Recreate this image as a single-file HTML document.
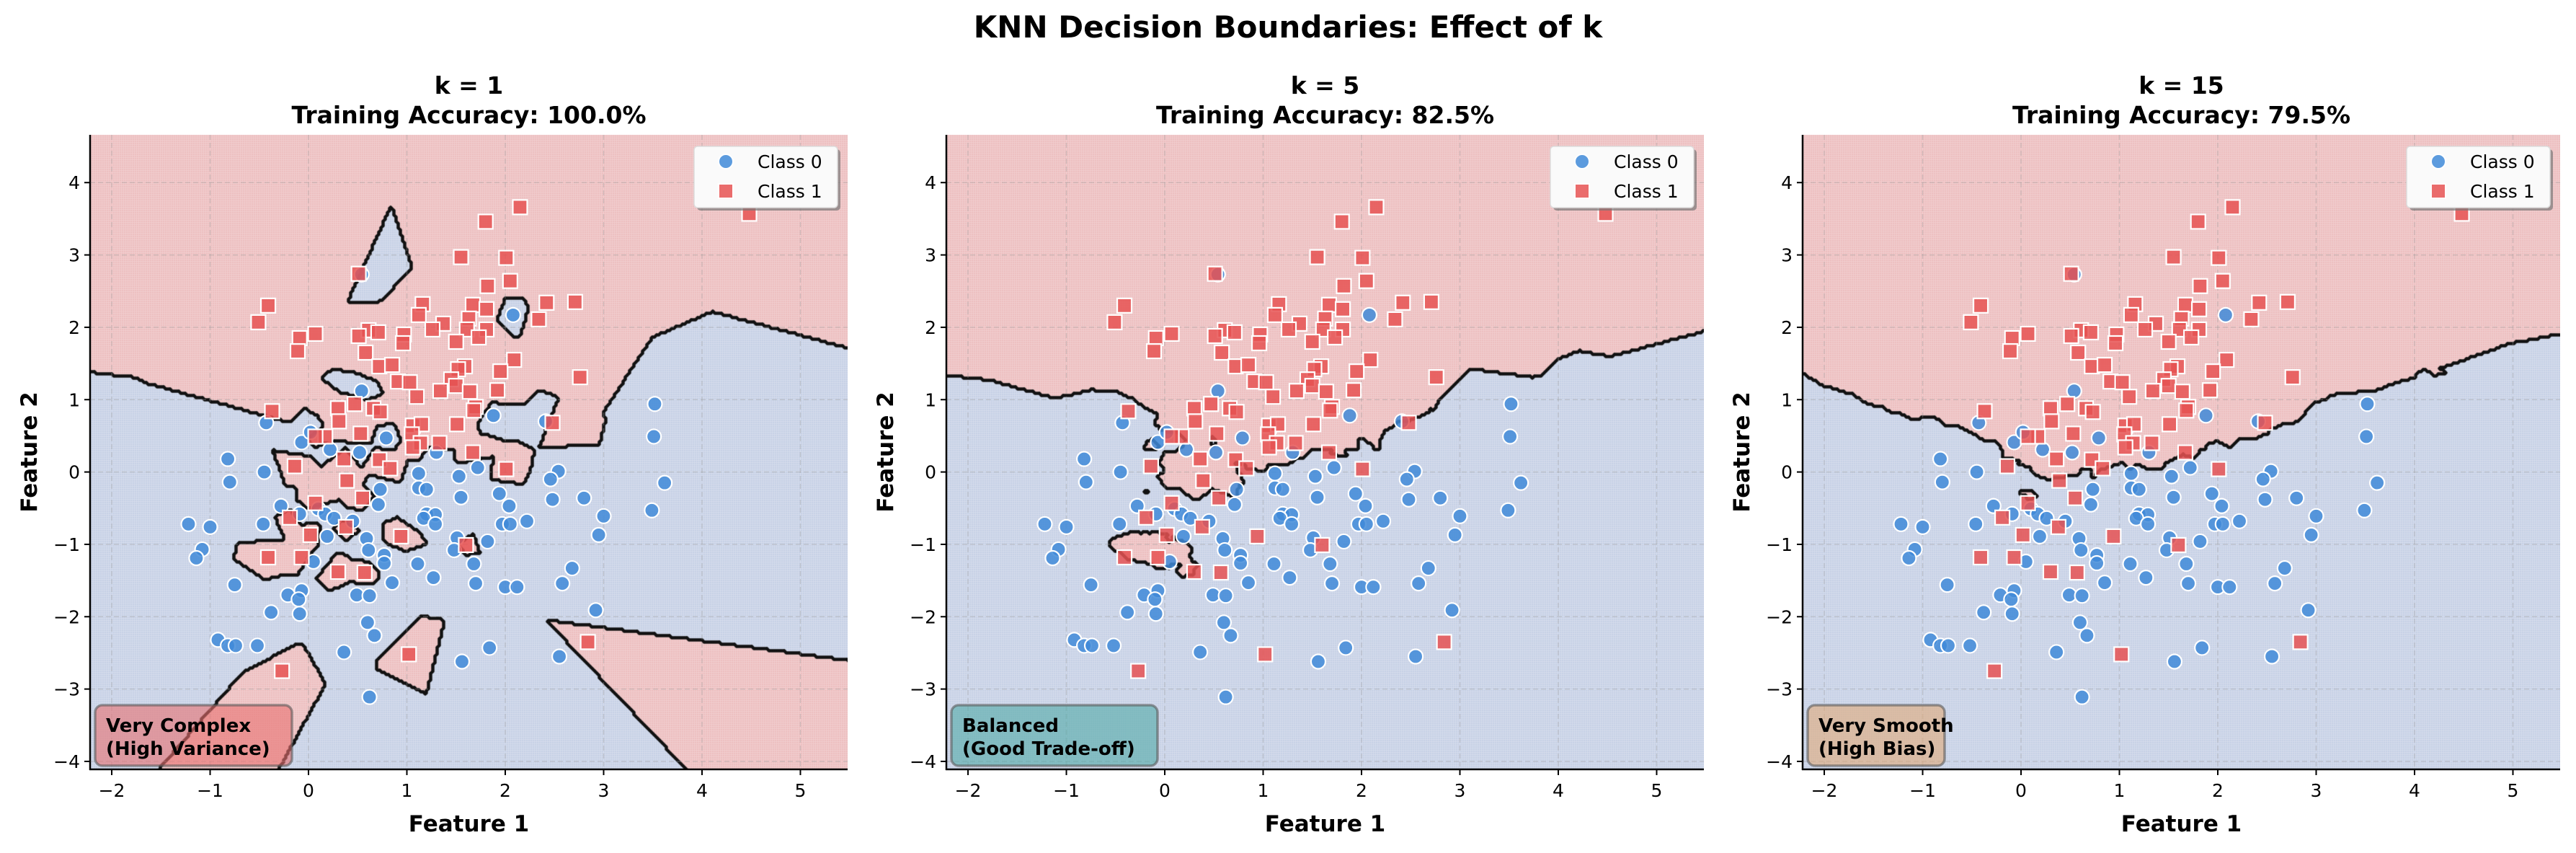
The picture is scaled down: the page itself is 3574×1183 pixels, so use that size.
<!DOCTYPE html>
<html><head><meta charset="utf-8">
<style>
html,body{margin:0;padding:0;background:#fff;}
#wrap{position:relative;width:3574px;height:1183px;overflow:hidden;font-family:"DejaVu Sans","Liberation Sans",sans-serif;}
canvas{position:absolute;}
svg{position:absolute;left:0;top:0;}
</style></head>
<body>
<div id="wrap">
<canvas id="c0"></canvas>
<canvas id="c1"></canvas>
<canvas id="c2"></canvas>
<svg id="svg" width="3574" height="1183" xmlns="http://www.w3.org/2000/svg">
<text x="1787" y="52" text-anchor="middle" font-size="42" font-weight="bold">KNN Decision Boundaries: Effect of k</text>
</svg>
</div>
<script>
// ---- data (feature1, feature2) ----
const class0X = [0.54,2.08,0.54,-0.43,1.88,2.41,3.52,3.51,3.62,3.49,-0.07,0.02,0.79,0.22,0.52,1.30,-0.82,-0.45,-0.80,1.12,1.53,1.72,2.54,2.46,0.73,1.12,1.20,1.55,1.94,2.04,2.48,2.80,3.00,2.95,-0.28,-0.09,0.10,0.17,0.26,0.45,0.71,1.20,1.29,1.17,1.29,1.97,2.05,2.22,-1.22,-1.00,-0.46,-1.08,-1.14,0.19,0.59,0.61,0.77,0.77,0.05,1.51,1.48,1.82,1.11,1.68,1.27,1.70,2.00,2.12,2.68,2.58,-0.75,-0.21,-0.07,-0.10,-0.09,-0.38,0.49,0.62,0.85,0.60,0.67,2.92,-0.92,-0.82,-0.74,-0.52,0.36,1.56,1.84,2.55,0.62];
const class0Y = [2.73,2.17,1.12,0.68,0.78,0.70,0.94,0.49,-0.15,-0.53,0.41,0.55,0.47,0.31,0.27,0.27,0.18,0.00,-0.14,-0.02,-0.06,0.06,0.01,-0.10,-0.24,-0.22,-0.24,-0.35,-0.30,-0.47,-0.38,-0.36,-0.61,-0.87,-0.47,-0.58,-0.51,-0.58,-0.64,-0.68,-0.45,-0.58,-0.59,-0.64,-0.72,-0.72,-0.72,-0.68,-0.72,-0.76,-0.72,-1.07,-1.19,-0.89,-0.92,-1.08,-1.15,-1.26,-1.24,-0.91,-1.08,-0.96,-1.27,-1.27,-1.46,-1.54,-1.59,-1.59,-1.33,-1.54,-1.56,-1.70,-1.64,-1.76,-1.96,-1.94,-1.70,-1.71,-1.53,-2.08,-2.26,-1.91,-2.32,-2.40,-2.40,-2.40,-2.49,-2.62,-2.43,-2.55,-3.11];
const class1X = [2.15,1.80,4.48,1.55,2.01,0.51,2.05,1.82,-0.41,1.16,2.42,2.71,-0.51,1.12,1.37,1.67,1.81,1.63,2.34,1.26,0.61,0.71,0.97,0.51,0.07,-0.09,-0.11,0.96,1.61,1.81,1.73,1.50,0.58,2.09,0.72,0.85,1.59,1.52,1.95,2.76,0.91,1.03,1.45,1.50,1.34,1.64,1.92,1.10,1.70,1.68,-0.37,0.30,0.47,0.66,0.73,0.31,1.06,1.15,1.51,2.48,0.17,0.07,0.53,1.05,1.14,1.06,1.33,1.67,-0.14,0.36,0.72,0.83,2.01,0.39,0.55,0.07,-0.19,0.38,0.02,0.94,1.60,-0.41,-0.07,0.30,0.57,1.02,-0.27,2.84];
const class1Y = [3.66,3.46,3.57,2.97,2.96,2.74,2.64,2.57,2.30,2.32,2.34,2.35,2.07,2.17,2.05,2.31,2.25,2.12,2.11,1.97,1.96,1.93,1.90,1.88,1.91,1.85,1.67,1.78,1.97,1.97,1.86,1.80,1.65,1.55,1.46,1.48,1.46,1.42,1.39,1.31,1.25,1.24,1.28,1.19,1.12,1.11,1.13,1.04,0.90,0.85,0.84,0.88,0.94,0.88,0.83,0.70,0.64,0.66,0.66,0.68,0.49,0.49,0.53,0.52,0.40,0.34,0.40,0.27,0.08,0.18,0.17,0.05,0.04,-0.12,-0.36,-0.43,-0.63,-0.76,-0.87,-0.89,-1.01,-1.18,-1.18,-1.38,-1.39,-2.52,-2.75,-2.35];
const kValues = [1,5,15];
const accuracyLabels = ["100.0%","82.5%","79.5%"];
const boxLabels = [["Very Complex","(High Variance)"],["Balanced","(Good Trade-off)"],["Very Smooth","(High Bias)"]];
const xTicks = [-2,-1,0,1,2,3,4,5];
const yTicks = [-4,-3,-2,-1,0,1,2,3,4];

// ---- layout ----
const NS="http://www.w3.org/2000/svg";
const svg=document.getElementById('svg');
const PL=[125,1313,2501], PT=187, PW=1051, PH=880;
const XMIN=-2.22, XMAX=5.48, YMIN=-4.11, YMAX=4.66;
const xs=v=>(v-XMIN)/(XMAX-XMIN)*PW;
const ys=v=>PH-(v-YMIN)/(YMAX-YMIN)*PH;
function el(tag,attrs,parent){const e=document.createElementNS(NS,tag);for(const k in attrs)e.setAttribute(k,attrs[k]);(parent||svg).appendChild(e);return e;}

// ---- KNN on grid ----
const PX=[],PY=[],LB=[];
class0X.forEach((x,i)=>{PX.push(x);PY.push(class0Y[i]);LB.push(0);});
class1X.forEach((x,i)=>{PX.push(x);PY.push(class1Y[i]);LB.push(1);});
const STEP=3, NX=Math.ceil(PW/STEP)+1, NY=Math.ceil(PH/STEP)+1;
const grids=kValues.map(()=>new Uint8Array(NX*NY));
const KM=Math.max(...kValues);
const bd=new Float64Array(KM), bl=new Uint8Array(KM);
for(let j=0;j<NY;j++){
  const gy=YMAX-(j*STEP)/PH*(YMAX-YMIN);
  for(let i=0;i<NX;i++){
    const gx=XMIN+(i*STEP)/PW*(XMAX-XMIN);
    let n=0;
    for(let p=0;p<PX.length;p++){
      const dx=PX[p]-gx, dy=PY[p]-gy, d=dx*dx+dy*dy;
      if(n<KM||d<bd[n-1]){
        let q=n<KM?n:KM-1;
        while(q>0&&bd[q-1]>d){bd[q]=bd[q-1];bl[q]=bl[q-1];q--;}
        bd[q]=d;bl[q]=LB[p];if(n<KM)n++;
      }
    }
    kValues.forEach((k,gi)=>{let s=0;for(let q=0;q<k;q++)s+=bl[q];grids[gi][j*NX+i]=(s*2>k)?1:0;});
  }
}
const SEG={1:[['L','B']],2:[['B','R']],3:[['L','R']],4:[['T','R']],5:[['L','T'],['B','R']],6:[['T','B']],7:[['L','T']],8:[['L','T']],9:[['T','B']],10:[['L','B'],['T','R']],11:[['T','R']],12:[['L','R']],13:[['B','R']],14:[['L','B']]};
kValues.forEach((k,gi)=>{
  const cv=document.getElementById('c'+gi);
  cv.width=PW;cv.height=PH;cv.style.left=PL[gi]+'px';cv.style.top=PT+'px';
  const ctx=cv.getContext('2d');const g=grids[gi];
  for(let j=0;j<NY;j++)for(let i=0;i<NX;i++){
    ctx.fillStyle=g[j*NX+i]?'#ecbcbd':'#c5cfe5';
    ctx.fillRect(i*STEP-STEP/2,j*STEP-STEP/2,STEP,STEP);
  }
  ctx.strokeStyle='#111';ctx.lineWidth=4.5;ctx.lineCap='round';ctx.lineJoin='round';ctx.beginPath();
  for(let j=0;j<NY-1;j++)for(let i=0;i<NX-1;i++){
    const a=g[j*NX+i],b=g[j*NX+i+1],c=g[(j+1)*NX+i+1],d=g[(j+1)*NX+i];
    const idx=a*8+b*4+c*2+d; const s=SEG[idx]; if(!s)continue;
    const x0=i*STEP,y0=j*STEP,h=STEP/2;
    const P={T:[x0+h,y0],B:[x0+h,y0+STEP],L:[x0,y0+h],R:[x0+STEP,y0+h]};
    s.forEach(([u,v])=>{ctx.moveTo(P[u][0],P[u][1]);ctx.lineTo(P[v][0],P[v][1]);});
  }
  ctx.stroke();
});

// ---- SVG overlay per panel ----
const boxW=[273,286,190];
const boxFill=['rgba(232,112,112,0.6)','rgba(70,165,160,0.55)','rgba(225,165,110,0.55)'];
kValues.forEach((k,gi)=>{
  const g=el('g',{transform:`translate(${PL[gi]},${PT})`});
  
  
  xTicks.forEach(t=>{const l=el('line',{x1:xs(t),x2:xs(t),y1:0,y2:PH,stroke:'#999','stroke-opacity':0.35,'stroke-width':1.5,'stroke-dasharray':'7,4'},g);});
  yTicks.forEach(t=>{const l=el('line',{x1:0,x2:PW,y1:ys(t),y2:ys(t),stroke:'#999','stroke-opacity':0.35,'stroke-width':1.5,'stroke-dasharray':'7,4'},g);});
  class0X.forEach((x,i)=>{const c=el('circle',{cx:xs(x),cy:ys(class0Y[i]),r:10,fill:'#3f8ad8','fill-opacity':0.85,stroke:'#fff','stroke-width':2.2},g);});
  class1X.forEach((x,i)=>{const r=el('rect',{x:xs(x)-10,y:ys(class1Y[i])-10,width:20,height:20,fill:'#e65252','fill-opacity':0.85,stroke:'#fff','stroke-width':2.2},g);});
  const sl=el('line',{x1:0,x2:0,y1:0,y2:PH+1,stroke:'#000','stroke-width':2.5},g);
  const sb=el('line',{x1:-1,x2:PW,y1:PH,y2:PH,stroke:'#000','stroke-width':2.5},g);
  xTicks.forEach(t=>{el('line',{x1:xs(t),x2:xs(t),y1:PH,y2:PH+8,stroke:'#000','stroke-width':2},g);const tx=el('text',{x:xs(t),y:PH+38,'text-anchor':'middle','font-size':25},g);tx.textContent=(t<0?'\u2212'+(-t):t);});
  yTicks.forEach(t=>{el('line',{x1:-8,x2:0,y1:ys(t),y2:ys(t),stroke:'#000','stroke-width':2},g);const tx=el('text',{x:-14,y:ys(t)+9,'text-anchor':'end','font-size':25},g);tx.textContent=(t<0?'\u2212'+(-t):t);});
  const xl=el('text',{x:PW/2,y:PH+86,'text-anchor':'middle','font-size':31,'font-weight':'bold'},g);xl.textContent='Feature 1';
  const yl=el('text',{x:0,y:0,'text-anchor':'middle','font-size':31,'font-weight':'bold',transform:`translate(-74,${PH/2}) rotate(-90)`},g);yl.textContent='Feature 2';
  const t1=el('text',{x:PW/2,y:-57,'text-anchor':'middle','font-size':33,'font-weight':'bold'},g);t1.textContent='k = '+k;
  const t2=el('text',{x:PW/2,y:-16,'text-anchor':'middle','font-size':33,'font-weight':'bold'},g);t2.textContent='Training Accuracy: '+accuracyLabels[gi];
  const lg=el('g',{transform:`translate(${PW-213},16)`},g);
  
  
  el('rect',{x:4,y:4,width:199,height:85,rx:5,fill:'#777','fill-opacity':0.7},lg);
  el('rect',{x:0,y:0,width:199,height:85,rx:5,fill:'#fafafa',stroke:'#ddd','stroke-width':1.5},lg);
  const lc=el('circle',{cx:44,cy:21,r:10,fill:'#3f8ad8','fill-opacity':0.85,stroke:'#fff','stroke-width':2},lg);
  const lr=el('rect',{x:34,y:52,width:20,height:20,fill:'#e65252','fill-opacity':0.85,stroke:'#fff','stroke-width':2},lg);
  const la=el('text',{x:88,y:30,'font-size':25},lg);la.textContent='Class 0';
  const lb=el('text',{x:88,y:71,'font-size':25},lg);lb.textContent='Class 1';
  const ab=el('g',{},g);
  
  
  el('rect',{x:7,y:PH-89,width:boxW[gi],height:84,rx:10,fill:boxFill[gi],stroke:'rgba(90,90,90,0.6)','stroke-width':3.5},ab);
  const a1=el('text',{x:22,y:PH-52,'font-size':26,'font-weight':'bold'},ab);a1.textContent=boxLabels[gi][0];
  const a2=el('text',{x:22,y:PH-20,'font-size':26,'font-weight':'bold'},ab);a2.textContent=boxLabels[gi][1];
});
</script>
</body></html>
